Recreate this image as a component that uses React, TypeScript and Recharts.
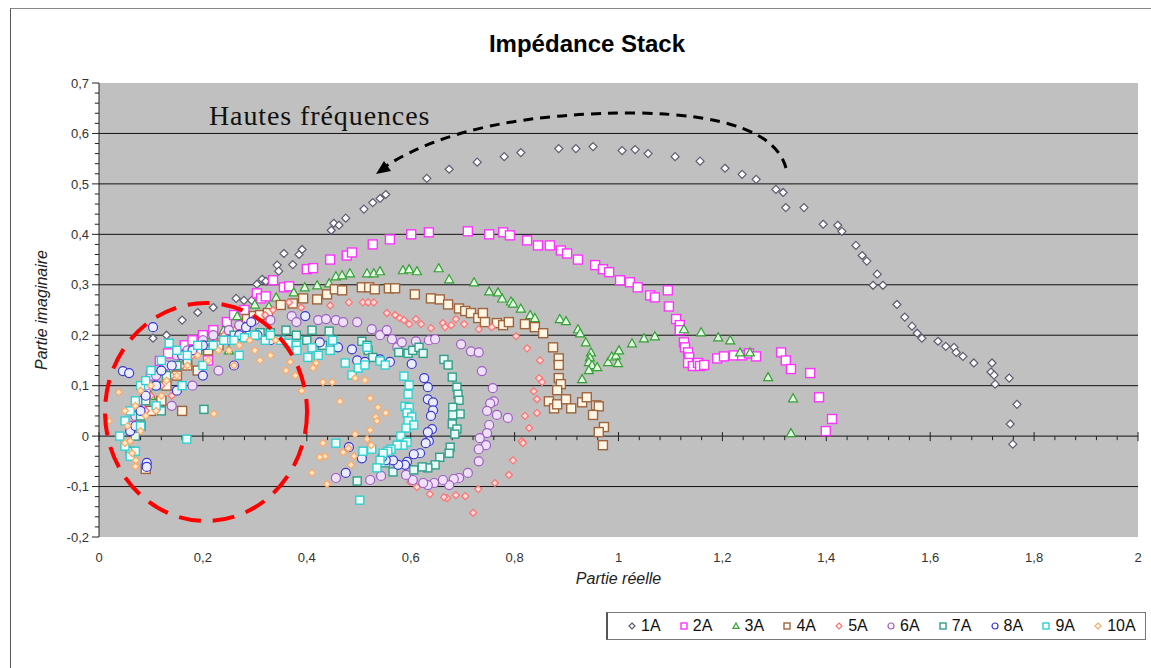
import { ScatterChart, Scatter, XAxis, YAxis, CartesianGrid, ReferenceLine } from "recharts";

type Pt = [number, number];

const s1A: Pt[] = [
  [0.07, 0.05], [0.085, 0.1], [0.104, 0.194], [0.13, 0.2], [0.16, 0.23], [0.19, 0.245], [0.22, 0.255],
  [0.264, 0.273], [0.279, 0.269], [0.294, 0.269], [0.304, 0.301], [0.314, 0.311], [0.321, 0.307],
  [0.343, 0.339], [0.346, 0.327], [0.356, 0.362], [0.373, 0.34], [0.385, 0.36], [0.391, 0.37],
  [0.447, 0.408], [0.452, 0.422], [0.462, 0.418], [0.475, 0.432], [0.51, 0.45], [0.527, 0.463],
  [0.541, 0.471], [0.552, 0.479], [0.631, 0.511], [0.674, 0.529], [0.728, 0.543], [0.78, 0.554],
  [0.812, 0.562], [0.885, 0.57], [0.918, 0.57], [0.951, 0.574], [1.007, 0.566], [1.032, 0.568],
  [1.057, 0.56], [1.109, 0.554], [1.157, 0.545], [1.205, 0.531], [1.238, 0.519], [1.265, 0.509],
  [1.303, 0.489], [1.317, 0.483], [1.322, 0.453], [1.357, 0.453], [1.394, 0.42], [1.422, 0.418],
  [1.43, 0.406], [1.457, 0.378], [1.469, 0.358], [1.478, 0.347], [1.498, 0.321], [1.49, 0.299],
  [1.509, 0.299], [1.536, 0.261], [1.551, 0.236], [1.565, 0.218], [1.575, 0.204], [1.584, 0.194],
  [1.615, 0.188], [1.63, 0.178], [1.646, 0.176], [1.65, 0.166], [1.663, 0.158], [1.684, 0.145],
  [1.719, 0.145], [1.717, 0.127], [1.723, 0.121], [1.725, 0.103], [1.752, 0.115], [1.767, 0.063],
  [1.754, 0.024], [1.759, -0.016],
];

const s2A: Pt[] = [
  [0.08, 0.06], [0.09, 0.09], [0.1, 0.12], [0.117, 0.149], [0.133, 0.164], [0.14, 0.13], [0.165, 0.18],
  [0.18, 0.19], [0.2, 0.2], [0.21, 0.15], [0.22, 0.21], [0.246, 0.226], [0.26, 0.24], [0.28, 0.25],
  [0.304, 0.283], [0.312, 0.273], [0.321, 0.277], [0.335, 0.309], [0.356, 0.295], [0.366, 0.297],
  [0.4, 0.331], [0.412, 0.333], [0.445, 0.35], [0.477, 0.358], [0.487, 0.364], [0.527, 0.38],
  [0.56, 0.39], [0.601, 0.4], [0.635, 0.404], [0.71, 0.406], [0.751, 0.4], [0.778, 0.404],
  [0.791, 0.398], [0.824, 0.388], [0.845, 0.378], [0.868, 0.378], [0.889, 0.368], [0.901, 0.362],
  [0.922, 0.35], [0.955, 0.339], [0.97, 0.331], [0.982, 0.325], [1.003, 0.309], [1.022, 0.305],
  [1.037, 0.295], [1.061, 0.279], [1.07, 0.275], [1.095, 0.289], [1.097, 0.257], [1.111, 0.232],
  [1.118, 0.22], [1.118, 0.21], [1.126, 0.186], [1.128, 0.176], [1.134, 0.166], [1.136, 0.156],
  [1.134, 0.145], [1.143, 0.139], [1.153, 0.145], [1.157, 0.139], [1.165, 0.141], [1.19, 0.154],
  [1.203, 0.158], [1.222, 0.16], [1.238, 0.16], [1.251, 0.164], [1.265, 0.158], [1.313, 0.166],
  [1.322, 0.15], [1.332, 0.133], [1.369, 0.125], [1.386, 0.077], [1.411, 0.034], [1.399, 0.01],
];

const s3A: Pt[] = [
  [0.1, 0.08], [0.12, 0.1], [0.14, 0.13], [0.16, 0.15], [0.18, 0.17], [0.2, 0.19], [0.22, 0.2],
  [0.24, 0.21], [0.25, 0.17], [0.266, 0.238], [0.28, 0.23], [0.3, 0.261], [0.32, 0.24], [0.327, 0.257],
  [0.341, 0.275], [0.375, 0.285], [0.396, 0.295], [0.42, 0.299], [0.443, 0.303], [0.456, 0.317],
  [0.468, 0.319], [0.483, 0.323], [0.516, 0.323], [0.529, 0.323], [0.541, 0.327], [0.585, 0.329],
  [0.597, 0.331], [0.612, 0.327], [0.654, 0.333], [0.674, 0.311], [0.722, 0.305], [0.751, 0.287],
  [0.768, 0.285], [0.776, 0.273], [0.793, 0.267], [0.797, 0.263], [0.812, 0.253], [0.83, 0.24],
  [0.839, 0.234], [0.887, 0.232], [0.899, 0.228], [0.922, 0.212], [0.926, 0.204], [0.937, 0.186],
  [0.947, 0.166], [0.945, 0.156], [0.943, 0.147], [0.949, 0.141], [0.943, 0.131], [0.959, 0.137],
  [0.93, 0.113], [0.98, 0.147], [0.987, 0.158], [0.995, 0.16], [1.001, 0.17], [0.999, 0.145],
  [1.026, 0.184], [1.049, 0.194], [1.07, 0.198], [1.126, 0.212], [1.159, 0.206], [1.192, 0.196],
  [1.215, 0.19], [1.234, 0.166], [1.253, 0.166], [1.288, 0.117], [1.336, 0.075], [1.332, 0.006],
];

const s4A: Pt[] = [
  [0.08, 0.02], [0.09, -0.065], [0.1, 0.05], [0.12, 0.07], [0.13, 0.1], [0.15, 0.12], [0.16, 0.05],
  [0.17, 0.14], [0.19, 0.13], [0.21, 0.17], [0.23, 0.18], [0.25, 0.2], [0.27, 0.21], [0.285, 0.232],
  [0.298, 0.238], [0.31, 0.24], [0.325, 0.244], [0.35, 0.26], [0.373, 0.263], [0.393, 0.273],
  [0.42, 0.271], [0.439, 0.281], [0.454, 0.291], [0.468, 0.289], [0.506, 0.295], [0.52, 0.295],
  [0.531, 0.291], [0.558, 0.293], [0.57, 0.293], [0.608, 0.281], [0.639, 0.273], [0.656, 0.271],
  [0.672, 0.261], [0.693, 0.253], [0.705, 0.248], [0.716, 0.244], [0.73, 0.234], [0.739, 0.244],
  [0.743, 0.226], [0.766, 0.224], [0.778, 0.22], [0.789, 0.226], [0.82, 0.222], [0.839, 0.216],
  [0.855, 0.204], [0.874, 0.176], [0.885, 0.154], [0.885, 0.141], [0.885, 0.115], [0.889, 0.103],
  [0.882, 0.091], [0.866, 0.069], [0.876, 0.055], [0.882, 0.063], [0.899, 0.073], [0.909, 0.055],
  [0.93, 0.067], [0.939, 0.077], [0.957, 0.061], [0.962, 0.059], [0.951, 0.042], [0.972, 0.018],
  [0.962, 0.008], [0.97, -0.018],
];

const s5A: Pt[] = [
  [0.06, -0.01], [0.07, 0.03], [0.09, 0.05], [0.1, 0.08], [0.12, 0.1], [0.14, 0.08], [0.14, 0.12],
  [0.16, 0.14], [0.18, 0.16], [0.2, 0.18], [0.22, 0.19], [0.24, 0.2], [0.26, 0.21], [0.28, 0.22],
  [0.3, 0.235], [0.32, 0.24], [0.335, 0.25], [0.366, 0.265], [0.389, 0.255], [0.445, 0.259],
  [0.481, 0.265], [0.508, 0.265], [0.518, 0.265], [0.529, 0.265], [0.554, 0.244], [0.57, 0.24],
  [0.579, 0.234], [0.587, 0.23], [0.597, 0.222], [0.61, 0.232], [0.62, 0.222], [0.639, 0.214],
  [0.662, 0.224], [0.666, 0.216], [0.678, 0.22], [0.687, 0.232], [0.703, 0.222], [0.731, 0.212],
  [0.756, 0.216], [0.803, 0.198], [0.824, 0.174], [0.849, 0.15], [0.847, 0.115], [0.853, 0.107],
  [0.837, 0.089], [0.843, 0.073], [0.843, 0.046], [0.82, 0.04], [0.828, 0.016], [0.814, -0.01],
  [0.816, -0.014], [0.797, -0.048], [0.789, -0.077], [0.762, -0.093], [0.73, -0.105], [0.72, -0.152],
  [0.705, -0.119], [0.687, -0.117], [0.67, -0.123], [0.664, -0.121], [0.637, -0.115], [0.612, -0.101],
  [0.599, -0.091],
];

const s6A: Pt[] = [
  [0.06, 0.02], [0.07, 0.04], [0.08, 0.07], [0.09, 0.1], [0.11, 0.12], [0.13, 0.14], [0.14, 0.06],
  [0.15, 0.16], [0.17, 0.17], [0.18, 0.1], [0.2, 0.19], [0.22, 0.2], [0.23, 0.13], [0.25, 0.21],
  [0.27, 0.22], [0.3, 0.23], [0.33, 0.23], [0.371, 0.238], [0.38, 0.226], [0.422, 0.23], [0.437, 0.232],
  [0.456, 0.23], [0.47, 0.226], [0.497, 0.226], [0.525, 0.212], [0.541, 0.2], [0.554, 0.21],
  [0.564, 0.192], [0.574, 0.176], [0.583, 0.186], [0.61, 0.188], [0.635, 0.19], [0.647, 0.192],
  [0.697, 0.182], [0.716, 0.168], [0.731, 0.166], [0.737, 0.129], [0.758, 0.095], [0.76, 0.069],
  [0.753, 0.065], [0.747, 0.05], [0.766, 0.042], [0.787, 0.036], [0.751, 0.022], [0.747, 0.006],
  [0.733, -0.004], [0.745, -0.018], [0.731, -0.026], [0.731, -0.05], [0.71, -0.073], [0.693, -0.083],
  [0.683, -0.085], [0.674, -0.097], [0.662, -0.087], [0.645, -0.093], [0.633, -0.097], [0.624, -0.093],
  [0.604, -0.087], [0.591, -0.077], [0.543, -0.079], [0.522, -0.087], [0.456, -0.083],
];

const s7A: Pt[] = [
  [0.06, -0.03], [0.07, 0.0], [0.08, 0.04], [0.09, 0.07], [0.11, 0.1], [0.12, 0.05], [0.13, 0.12],
  [0.15, 0.14], [0.17, 0.15], [0.19, 0.17], [0.202, 0.053], [0.21, 0.18], [0.24, 0.19], [0.26, 0.2],
  [0.29, 0.2], [0.31, 0.205], [0.33, 0.205], [0.36, 0.21], [0.38, 0.2], [0.4, 0.19], [0.41, 0.21],
  [0.43, 0.18], [0.443, 0.208], [0.506, 0.188], [0.516, 0.18], [0.518, 0.17], [0.527, 0.156],
  [0.577, 0.166], [0.595, 0.164], [0.604, 0.17], [0.616, 0.176], [0.624, 0.164], [0.664, 0.152],
  [0.672, 0.141], [0.68, 0.117], [0.689, 0.097], [0.691, 0.083], [0.693, 0.071], [0.681, 0.057],
  [0.695, 0.044], [0.681, 0.042], [0.68, 0.024], [0.689, 0.014], [0.685, 0.004], [0.676, -0.022],
  [0.674, -0.034], [0.656, -0.042], [0.647, -0.057], [0.633, -0.063], [0.622, -0.061], [0.606, -0.067],
  [0.566, -0.071], [0.551, -0.053], [0.497, -0.089],
];

const s8A: Pt[] = [
  [0.046, 0.129], [0.058, 0.125], [0.06, 0.01], [0.07, 0.02], [0.08, 0.05], [0.09, 0.08],
  [0.092, -0.053], [0.092, -0.061], [0.104, 0.216], [0.11, 0.1], [0.12, 0.13], [0.14, 0.14],
  [0.15, 0.09], [0.16, 0.16], [0.18, 0.17], [0.2, 0.18], [0.2, 0.12], [0.22, 0.18], [0.25, 0.19],
  [0.26, 0.14], [0.27, 0.2], [0.283, 0.216], [0.293, 0.226], [0.305, 0.2], [0.33, 0.19], [0.397, 0.238],
  [0.425, 0.186], [0.46, 0.176], [0.487, 0.172], [0.497, 0.15], [0.512, 0.147], [0.541, 0.152],
  [0.56, 0.147], [0.602, 0.143], [0.626, 0.115], [0.633, 0.097], [0.633, 0.073], [0.643, 0.067],
  [0.643, 0.051], [0.639, 0.04], [0.641, 0.014], [0.633, 0.008], [0.635, -0.01], [0.629, -0.014],
  [0.618, -0.034], [0.606, -0.036], [0.593, -0.051], [0.589, -0.057], [0.576, -0.057], [0.566, -0.048],
  [0.552, -0.048], [0.545, -0.042], [0.506, -0.044], [0.481, -0.022], [0.475, -0.073],
];

const s9A: Pt[] = [
  [0.04, 0.0], [0.05, -0.02], [0.05, 0.03], [0.06, -0.04], [0.06, 0.05], [0.07, -0.03], [0.07, 0.07],
  [0.08, 0.02], [0.08, 0.1], [0.09, 0.11], [0.1, 0.13], [0.11, 0.06], [0.12, 0.15], [0.135, 0.184],
  [0.15, 0.17], [0.16, 0.1], [0.169, -0.006], [0.17, 0.16], [0.19, 0.18], [0.2, 0.14], [0.22, 0.18],
  [0.24, 0.19], [0.26, 0.19], [0.27, 0.16], [0.28, 0.195], [0.3, 0.2], [0.32, 0.19], [0.33, 0.2],
  [0.35, 0.19], [0.364, 0.184], [0.38, 0.18], [0.381, 0.17], [0.402, 0.156], [0.41, 0.175],
  [0.422, 0.16], [0.445, 0.17], [0.45, 0.19], [0.474, 0.145], [0.487, 0.121], [0.499, 0.135],
  [0.512, 0.141], [0.516, 0.176], [0.541, 0.149], [0.551, 0.141], [0.587, 0.119], [0.597, 0.101],
  [0.595, 0.083], [0.589, 0.059], [0.597, 0.057], [0.593, 0.046], [0.602, 0.038], [0.595, 0.03],
  [0.606, 0.022], [0.591, 0.016], [0.581, 0.0], [0.593, -0.012], [0.585, -0.018], [0.574, -0.018],
  [0.562, -0.026], [0.556, -0.03], [0.547, -0.034], [0.541, -0.048], [0.535, -0.063], [0.525, -0.026],
  [0.508, -0.03], [0.456, -0.014], [0.502, -0.127],
];

const s10A: Pt[] = [
  [0.019, 0.03], [0.038, 0.087], [0.05, -0.014], [0.05, 0.05], [0.055, 0.02], [0.06, -0.01],
  [0.064, -0.034], [0.07, -0.06], [0.071, -0.048], [0.07, 0.06], [0.08, 0.01], [0.08, 0.09],
  [0.09, 0.04], [0.1, 0.1], [0.11, 0.05], [0.12, 0.08], [0.13, 0.11], [0.15, 0.12], [0.17, 0.14],
  [0.19, 0.16], [0.21, 0.15], [0.221, 0.044], [0.23, 0.17], [0.25, 0.17], [0.26, 0.14], [0.27, 0.18],
  [0.29, 0.19], [0.3, 0.17], [0.31, 0.15], [0.33, 0.16], [0.34, 0.19], [0.36, 0.13], [0.368, 0.147],
  [0.378, 0.12], [0.39, 0.09], [0.412, 0.135], [0.418, 0.145], [0.431, 0.107], [0.449, 0.107],
  [0.464, 0.069], [0.493, 0.115], [0.512, 0.111], [0.522, 0.075], [0.537, 0.057], [0.533, 0.038],
  [0.535, 0.03], [0.552, 0.046], [0.522, 0.012], [0.516, -0.006], [0.524, -0.018], [0.493, 0.004],
  [0.48, -0.024], [0.47, -0.032], [0.491, -0.04], [0.485, -0.057], [0.435, -0.04], [0.425, -0.042],
  [0.431, -0.014], [0.41, -0.073], [0.439, -0.095],
];

const xTicks = [0, 0.2, 0.4, 0.6, 0.8, 1, 1.2, 1.4, 1.6, 1.8, 2];
const yTicks = [-0.2, -0.1, 0, 0.1, 0.2, 0.3, 0.4, 0.5, 0.6, 0.7];
const gridLines = [-0.1, 0, 0.1, 0.2, 0.3, 0.4, 0.5, 0.6];

// minor axis ticks (0.04 on x, 0.02 on y)
const xMinor = xTicks.slice(0, -1).flatMap((t) => [1, 2, 3, 4].map((k) => +(t + k * 0.04).toFixed(2)));
const yMinor = yTicks.slice(0, -1).flatMap((t) => [1, 2, 3, 4].map((k) => +(t + k * 0.02).toFixed(2)));

type Kind = "diamond" | "square" | "triangle" | "circle";

const series: { name: string; data: Pt[]; kind: Kind; r: number; stroke: string; fill: string }[] = [
  { name: "1A", data: s1A, kind: "diamond", r: 4, stroke: "#5c5c70", fill: "#ffffff" },
  { name: "2A", data: s2A, kind: "square", r: 4.5, stroke: "#ff33ff", fill: "#ffffff" },
  { name: "3A", data: s3A, kind: "triangle", r: 4.5, stroke: "#34a034", fill: "#e4ffe4" },
  { name: "4A", data: s4A, kind: "square", r: 4.5, stroke: "#a0643c", fill: "#fff6e6" },
  { name: "5A", data: s5A, kind: "diamond", r: 3.5, stroke: "#ff7070", fill: "#ffdcdc" },
  { name: "6A", data: s6A, kind: "circle", r: 4.5, stroke: "#a05cc8", fill: "#eee0f6" },
  { name: "7A", data: s7A, kind: "square", r: 4, stroke: "#2f9f8a", fill: "#eafaf6" },
  { name: "8A", data: s8A, kind: "circle", r: 4.5, stroke: "#3a3ad0", fill: "#ececff" },
  { name: "9A", data: s9A, kind: "square", r: 4, stroke: "#30d0d0", fill: "#ecffff" },
  { name: "10A", data: s10A, kind: "diamond", r: 3.5, stroke: "#ffa860", fill: "#ffe6cc" },
];

const font = "'Liberation Sans', Arial, sans-serif";
const fmt = (v: number) => String(v).replace(".", ",");

function Marker({ cx, cy, kind, r, stroke, fill }: { cx?: number; cy?: number; kind: Kind; r: number; stroke: string; fill: string }) {
  if (cx == null || cy == null) return null;
  if (kind === "circle") return <circle cx={cx} cy={cy} r={r} stroke={stroke} fill={fill} strokeWidth={1.2} />;
  if (kind === "square")
    return <rect x={cx - r} y={cy - r} width={2 * r} height={2 * r} stroke={stroke} fill={fill} strokeWidth={1.4} />;
  if (kind === "triangle")
    return <path d={`M${cx},${cy - r}L${cx + r},${cy + r * 0.8}L${cx - r},${cy + r * 0.8}Z`} stroke={stroke} fill={fill} strokeWidth={1.2} />;
  return <path d={`M${cx},${cy - r}L${cx + r},${cy}L${cx},${cy + r}L${cx - r},${cy}Z`} stroke={stroke} fill={fill} strokeWidth={1.2} />;
}

export default function App() {
  return (
    <div style={{ position: "relative", width: 1151, height: 668, background: "#fff", overflow: "hidden" }}>
      <style>{`body{margin:0}`}</style>
      <div style={{ position: "absolute", left: 10, top: 8, right: -2, bottom: -2, borderLeft: "1px solid #555", borderTop: "1px solid #888" }} />

      <ScatterChart width={1151} height={668} margin={{ top: 83, right: 13, bottom: 101, left: 39 }}>
        <CartesianGrid horizontal vertical={false} fill="#c0c0c0" fillOpacity={1} stroke="#111" horizontalValues={gridLines} />
        <XAxis
          type="number"
          dataKey="x"
          domain={[0, 2]}
          ticks={xTicks}
          tickFormatter={fmt}
          axisLine={false}
          tickLine={false}
          tickSize={10}
          tickMargin={6}
          height={30}
          tick={{ fill: "#333", fontSize: 13, fontFamily: font }}
        />
        <YAxis
          type="number"
          dataKey="y"
          domain={[-0.2, 0.7]}
          ticks={yTicks}
          tickFormatter={fmt}
          width={60}
          tickSize={7}
          tickMargin={3}
          stroke="#222"
          tick={{ fill: "#333", fontSize: 13, fontFamily: font }}
        />
        {yMinor.map((v) => (
          <ReferenceLine key={"ym" + v} segment={[{ x: 0, y: v }, { x: -0.008, y: v }]} stroke="#222" ifOverflow="visible" />
        ))}
        {xMinor.map((v) => (
          <ReferenceLine key={"xm" + v} segment={[{ x: v, y: 0 }, { x: v, y: -0.008 }]} stroke="#222" ifOverflow="visible" />
        ))}
        {xTicks.map((v) => (
          <ReferenceLine key={"xt" + v} segment={[{ x: v, y: 0.008 }, { x: v, y: -0.01 }]} stroke="#222" ifOverflow="visible" />
        ))}
        {series.map((s) => (
          <Scatter
            key={s.name}
            name={s.name}
            data={s.data.map(([x, y]) => ({ x, y }))}
            isAnimationActive={false}
            shape={(p: any) => <Marker cx={p.cx} cy={p.cy} kind={s.kind} r={s.r} stroke={s.stroke} fill={s.fill} />}
          />
        ))}
      </ScatterChart>

      {/* annotations */}
      <svg width={1151} height={668} style={{ position: "absolute", left: 0, top: 0, pointerEvents: "none" }}>
        <path d="M786,168 Q772,116 640,113 Q470,112 386,166" fill="none" stroke="#000" strokeWidth={3} strokeDasharray="10 7" />
        <path d="M376,174 L384,161 L391,171 Z" fill="#000" />
        <ellipse cx={206} cy={412} rx={101} ry={109} fill="none" stroke="#ff0000" strokeWidth={4} strokeDasharray="22 12" />
      </svg>

      <div style={{ position: "absolute", left: 0, width: 1174, top: 30, textAlign: "center", fontFamily: font, fontWeight: "bold", fontSize: 24, color: "#000" }}>
        Impédance Stack
      </div>
      <div style={{ position: "absolute", left: 209, top: 100, fontFamily: "'Liberation Serif', 'DejaVu Serif', serif", fontSize: 28, letterSpacing: 0.9, color: "#111" }}>
        Hautes fréquences
      </div>
      <div style={{ position: "absolute", left: 99, width: 1039, top: 570, textAlign: "center", fontFamily: font, fontStyle: "italic", fontSize: 16, color: "#222" }}>
        Partie réelle
      </div>
      <div
        style={{
          position: "absolute", left: 42, top: 310, transform: "translate(-50%, -50%) rotate(-90deg)",
          whiteSpace: "nowrap", fontFamily: font, fontStyle: "italic", fontSize: 16, color: "#222",
        }}
      >
        Partie imaginaire
      </div>

      {/* legend */}
      <div
        style={{
          position: "absolute", left: 606, top: 612, width: 540, height: 28, border: "1px solid #777", borderLeft: "2px solid #555",
          background: "#fff", display: "flex", alignItems: "center", paddingLeft: 19, boxSizing: "border-box",
        }}
      >
        {series.map((s) => (
          <div key={s.name} style={{ display: "flex", alignItems: "center", width: 53.2, fontFamily: font, fontSize: 16, color: "#111" }}>
            <svg width={10} height={10} style={{ marginRight: 4 }}>
              <Marker cx={5} cy={5} kind={s.kind} r={3} stroke={s.stroke} fill="#fff" />
            </svg>
            {s.name}
          </div>
        ))}
      </div>
    </div>
  );
}
